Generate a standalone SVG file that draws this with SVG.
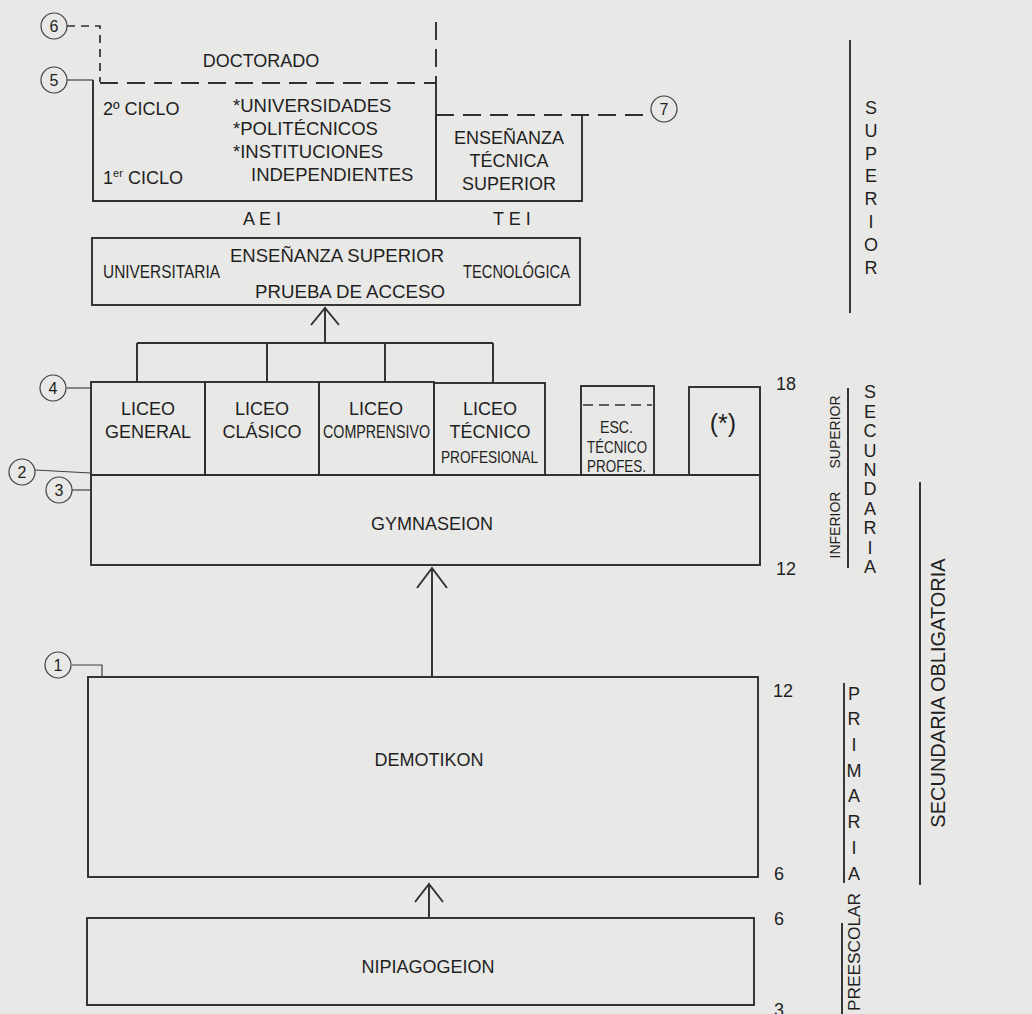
<svg xmlns="http://www.w3.org/2000/svg" width="1032" height="1014" viewBox="0 0 1032 1014">
<style>
text{font-family:"Liberation Sans",Arial,Helvetica,sans-serif;fill:#1f1f1f;font-size:18px}
.box{fill:none;stroke:#2e2e2e;stroke-width:1.9}
.ln{fill:none;stroke:#2e2e2e;stroke-width:1.9}
.thin{fill:none;stroke:#404040;stroke-width:1.2}
.dash{fill:none;stroke:#2e2e2e;stroke-width:1.9;stroke-dasharray:18 9}
.sdash{fill:none;stroke:#2e2e2e;stroke-width:1.7;stroke-dasharray:8 6}
.circ{fill:none;stroke:#404040;stroke-width:1.2}
.cn{font-size:16px;text-anchor:middle}
.c{text-anchor:middle}
.st{text-anchor:middle}
.rot{text-anchor:middle}
</style>
<rect x="0" y="0" width="1032" height="1014" fill="#e8e8e6"/>

<g id="connectors">
  <path class="sdash" d="M67,26 H100 V82"/>
  <path class="thin" d="M67,80 H93"/>
  <path class="dash" d="M436,22 V83"/>
  <path class="dash" d="M436,115 H651"/>
  <path class="ln" d="M325,307 V343 M137,343 H493 M137,343 V382 M267,343 V382 M385,343 V382 M493,343 V383"/>
  <polyline class="ln" points="311,325 325,308 339,325"/>
  <path class="thin" d="M67,388 H91"/>
  <path class="thin" d="M35,470 L91,473"/>
  <path class="thin" d="M72,490 H91"/>
  <path class="ln" d="M432,568 V677"/>
  <polyline class="ln" points="417,588 432,568 447,588"/>
  <path class="thin" d="M72,665 H102 V677"/>
  <path class="ln" d="M429,884 V917"/>
  <polyline class="ln" points="415,902 429,884 443,902"/>
  <path class="ln" d="M850,40 V313"/>
  <path class="ln" d="M848,388 V568"/>
  <path class="ln" d="M844,683 V883"/>
  <path class="ln" d="M842,923 V1014"/>
  <path class="ln" d="M920,482 V885"/>
</g>

<g id="markers">
  <g id="m6"><circle class="circ" cx="54" cy="26" r="13"/><text class="cn" x="54" y="32">6</text></g>
  <g id="m5"><circle class="circ" cx="54" cy="80" r="13"/><text class="cn" x="54" y="86">5</text></g>
  <g id="m7"><circle class="circ" cx="664" cy="109" r="13"/><text class="cn" x="664" y="115">7</text></g>
  <g id="m4"><circle class="circ" cx="53" cy="388" r="13"/><text class="cn" x="53" y="394">4</text></g>
  <g id="m2"><circle class="circ" cx="22" cy="472" r="13"/><text class="cn" x="22" y="478">2</text></g>
  <g id="m3"><circle class="circ" cx="59" cy="490" r="13"/><text class="cn" x="59" y="496">3</text></g>
  <g id="m1"><circle class="circ" cx="58" cy="665" r="13"/><text class="cn" x="58" y="671">1</text></g>
</g>

<g id="universidades">
  <path class="dash" d="M100,83 H436"/>
  <path class="box" d="M93,80 V201 H436 V83"/>
  <text class="c" x="261" y="67">DOCTORADO</text>
  <text x="103" y="115">2º CICLO</text>
  <text x="103" y="184">1<tspan style="font-size:11px" dy="-7">er</tspan><tspan dy="7" x="128">CICLO</tspan></text>
  <text x="233" y="112" style="font-size:18.5px">*UNIVERSIDADES</text>
  <text x="233" y="135" style="font-size:18.5px">*POLITÉCNICOS</text>
  <text x="233" y="158" style="font-size:18.5px">*INSTITUCIONES</text>
  <text x="251" y="181" style="font-size:18.5px">INDEPENDIENTES</text>
</g>

<g id="tecnica">
  <path class="box" d="M436,115 V201 H582 V115"/>
  <text class="c" x="509" y="144">ENSEÑANZA</text>
  <text class="c" x="509" y="167">TÉCNICA</text>
  <text class="c" x="509" y="190">SUPERIOR</text>
</g>

<g id="aei"><text x="243" y="225">A E I</text></g>
<g id="tei"><text x="493" y="225">T E I</text></g>

<g id="ensenanza-superior">
  <rect class="box" x="92" y="238" width="488" height="67"/>
  <text x="230" y="262" textLength="214" lengthAdjust="spacingAndGlyphs">ENSEÑANZA SUPERIOR</text>
  <text x="103" y="278" textLength="117" lengthAdjust="spacingAndGlyphs">UNIVERSITARIA</text>
  <text x="463" y="278" textLength="107" lengthAdjust="spacingAndGlyphs">TECNOLÓGICA</text>
  <text x="255" y="298" style="font-size:18.5px" textLength="190" lengthAdjust="spacingAndGlyphs">PRUEBA DE ACCESO</text>
</g>

<g id="liceo-general">
  <rect class="box" x="91" y="382" width="114" height="93"/>
  <text class="c" x="148" y="415">LICEO</text>
  <text class="c" x="148" y="438">GENERAL</text>
</g>
<g id="liceo-clasico">
  <rect class="box" x="205" y="382" width="114" height="93"/>
  <text class="c" x="262" y="415">LICEO</text>
  <text class="c" x="262" y="438">CLÁSICO</text>
</g>
<g id="liceo-comprensivo">
  <rect class="box" x="319" y="382" width="115" height="93"/>
  <text class="c" x="376" y="415">LICEO</text>
  <text x="323" y="438" textLength="107" lengthAdjust="spacingAndGlyphs">COMPRENSIVO</text>
</g>
<g id="liceo-tecnico">
  <rect class="box" x="434" y="383" width="111" height="92"/>
  <text class="c" x="490" y="415">LICEO</text>
  <text class="c" x="490" y="438">TÉCNICO</text>
  <text x="441" y="463" style="font-size:17px" textLength="97" lengthAdjust="spacingAndGlyphs">PROFESIONAL</text>
</g>
<g id="esc-tecnico">
  <rect class="box" x="581" y="386" width="73" height="89"/>
  <path class="sdash" d="M583,405 H652" style="stroke-dasharray:10 6"/>
  <text x="600" y="433" style="font-size:17px" textLength="33" lengthAdjust="spacingAndGlyphs">ESC.</text>
  <text x="587" y="453" style="font-size:17px" textLength="60" lengthAdjust="spacingAndGlyphs">TÉCNICO</text>
  <text x="587" y="472" style="font-size:17px" textLength="59" lengthAdjust="spacingAndGlyphs">PROFES.</text>
</g>
<g id="asterisco">
  <rect class="box" x="689" y="387" width="71" height="88"/>
  <text class="c" x="723" y="432" style="font-size:25px">(*)</text>
</g>

<g id="gymnaseion">
  <rect class="box" x="91" y="475" width="669" height="90"/>
  <text class="c" x="432" y="530">GYMNASEION</text>
</g>

<g id="demotikon">
  <rect class="box" x="88" y="677" width="670" height="200"/>
  <text class="c" x="429" y="766">DEMOTIKON</text>
</g>

<g id="nipiagogeion">
  <rect class="box" x="87" y="918" width="667" height="87"/>
  <text class="c" x="428" y="973">NIPIAGOGEION</text>
</g>

<g id="ages">
  <text x="776" y="390">18</text>
  <text x="776" y="575">12</text>
  <text x="773" y="697">12</text>
  <text x="774" y="880">6</text>
  <text x="774" y="925">6</text>
  <text x="774" y="1016">3</text>
</g>

<g id="label-superior">
  <text class="st" x="871" y="114">S</text>
  <text class="st" x="871" y="137">U</text>
  <text class="st" x="871" y="160">P</text>
  <text class="st" x="871" y="182">E</text>
  <text class="st" x="871" y="205">R</text>
  <text class="st" x="871" y="228">I</text>
  <text class="st" x="871" y="251">O</text>
  <text class="st" x="871" y="274">R</text>
</g>

<g id="label-secundaria">
  <text class="rot" style="font-size:14px" transform="translate(840,432) rotate(-90)">SUPERIOR</text>
  <text class="rot" style="font-size:14px" transform="translate(840,525) rotate(-90)">INFERIOR</text>
  <text class="st" x="870" y="398">S</text>
  <text class="st" x="870" y="418">E</text>
  <text class="st" x="870" y="437">C</text>
  <text class="st" x="870" y="457">U</text>
  <text class="st" x="870" y="476">N</text>
  <text class="st" x="870" y="495">D</text>
  <text class="st" x="870" y="515">A</text>
  <text class="st" x="870" y="534">R</text>
  <text class="st" x="870" y="554">I</text>
  <text class="st" x="870" y="573">A</text>
</g>

<g id="label-obligatoria">
  <text class="rot" style="font-size:20px" transform="translate(945,693) rotate(-90)">SECUNDARIA OBLIGATORIA</text>
</g>

<g id="label-primaria">
  <text class="st" x="854" y="700">P</text>
  <text class="st" x="854" y="725">R</text>
  <text class="st" x="854" y="751">I</text>
  <text class="st" x="854" y="777">M</text>
  <text class="st" x="854" y="802">A</text>
  <text class="st" x="854" y="828">R</text>
  <text class="st" x="854" y="854">I</text>
  <text class="st" x="854" y="880">A</text>
</g>

<g id="label-preescolar">
  <text class="rot" style="font-size:17px" transform="translate(860,952) rotate(-90)" textLength="118" lengthAdjust="spacingAndGlyphs">PREESCOLAR</text>
</g>
</svg>
